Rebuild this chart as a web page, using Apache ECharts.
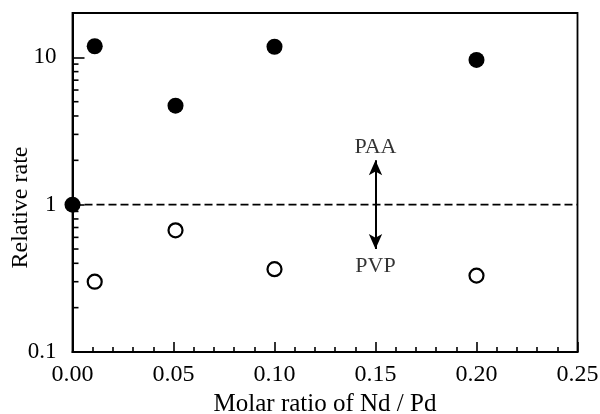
<!DOCTYPE html>
<html>
<head>
<meta charset="utf-8">
<script src="https://cdn.jsdelivr.net/npm/echarts@6/dist/echarts.min.js"></script>
<style>html,body{margin:0;padding:0;background:#fff}#c{width:600px;height:414px}</style>
</head>
<body>
<div id="c"></div>
<script>
// Data
var paaPoints = [[0.0, 1.0], [0.011, 11.9], [0.051, 4.7], [0.1, 11.8], [0.2, 9.6]];
var pvpPoints = [[0.011, 0.30], [0.051, 0.67], [0.1, 0.365], [0.2, 0.33]];
var refLine = [[0, 1], [0.25, 1]];
var arrowEnds = [[0.15, 0.5], [0.15, 2.0]];
var annotations = [[0.15, 2.45, 'PAA'], [0.15, 0.385, 'PVP']];
var yMinorTicks = [0.2, 0.3, 0.4, 0.5, 0.6, 0.7, 0.8, 0.9, 2, 3, 4, 5, 6, 7, 8, 9];
var xRange = [0, 0.25];
var yRange = [0.1, 20];

var FONT = 'Liberation Serif';
var chart = echarts.init(document.getElementById('c'), null, {renderer: 'canvas'});
chart.setOption({
  backgroundColor: '#fff',
  animation: false,
  grid: {left: 72.5, right: 22.5, top: 13, bottom: 62, containLabel: false, outerBoundsMode: 'none',
    show: true, borderColor: '#000', borderWidth: 1.8, backgroundColor: 'transparent'},
  xAxis: {
    type: 'value', min: xRange[0], max: xRange[1], interval: 0.05,
    name: 'Molar ratio of Nd / Pd', nameLocation: 'middle', nameGap: 40, nameMoveOverlap: false,
    nameTextStyle: {fontFamily: FONT, fontSize: 25, color: '#000'},
    axisLine: {lineStyle: {color: '#000', width: 2}},
    axisTick: {inside: true, length: 10, lineStyle: {color: '#000', width: 1.6}},
    minorTick: {show: true, splitNumber: 5, length: 5, lineStyle: {color: '#000', width: 1.6}},
    axisLabel: {fontFamily: FONT, fontSize: 24, color: '#000', margin: 11, formatter: function (v) { return v.toFixed(2); }},
    splitLine: {show: false}
  },
  yAxis: {
    type: 'log', logBase: 10, min: yRange[0], max: yRange[1],
    name: 'Relative rate', nameLocation: 'middle', nameGap: 40, nameMoveOverlap: false,
    nameTextStyle: {fontFamily: FONT, fontSize: 24, color: '#000', padding: [0, 50, 0, 0]},
    axisLine: {lineStyle: {color: '#000', width: 2}},
    axisTick: {inside: true, length: 12, lineStyle: {color: '#000', width: 1.6}},
    axisLabel: {fontFamily: FONT, fontSize: 23, color: '#000', margin: 16,
      formatter: function (v) { var l = Math.log10(v); return Math.abs(l - Math.round(l)) < 1e-6 ? String(+v.toPrecision(6)) : ''; }},
    splitLine: {show: false}
  },
  series: [
    {
      type: 'line', data: refLine, symbol: 'none', silent: true,
      lineStyle: {color: '#000', width: 1.8, type: [8, 4]}, z: 1
    },
    {
      type: 'custom', silent: true, data: yMinorTicks.map(function (v) { return [xRange[0], v]; }),
      renderItem: function (params, api) {
        var p = api.coord([api.value(0), api.value(1)]);
        return {type: 'line', shape: {x1: p[0], y1: p[1], x2: p[0] + 6, y2: p[1]}, style: {stroke: '#000', lineWidth: 1.6}};
      }, z: 2
    },
    {
      type: 'line', data: arrowEnds, symbol: 'none', silent: true,
      lineStyle: {color: '#000', width: 0}, z: 3,
      markLine: {
        silent: true, symbol: ['arrow', 'arrow'], symbolSize: [10, 15], label: {show: false},
        lineStyle: {color: '#000', width: 2, type: 'solid'},
        data: [[{coord: arrowEnds[0]}, {coord: arrowEnds[1]}]]
      }
    },
    {
      type: 'scatter', data: annotations, symbolSize: 0, silent: true, z: 4,
      label: {show: true, position: 'inside', fontFamily: FONT, fontSize: 22, color: '#000',
        formatter: function (p) { return p.value[2]; }}
    },
    {
      type: 'scatter', name: 'PVP', data: pvpPoints, clip: false, symbol: 'circle', symbolSize: 14,
      itemStyle: {color: '#fff', borderColor: '#000', borderWidth: 2.2, opacity: 1}, z: 5
    },
    {
      type: 'scatter', name: 'PAA', data: paaPoints, clip: false, symbol: 'circle', symbolSize: 16,
      itemStyle: {color: '#000', opacity: 1}, z: 6
    }
  ]
});
</script>
</body>
</html>
